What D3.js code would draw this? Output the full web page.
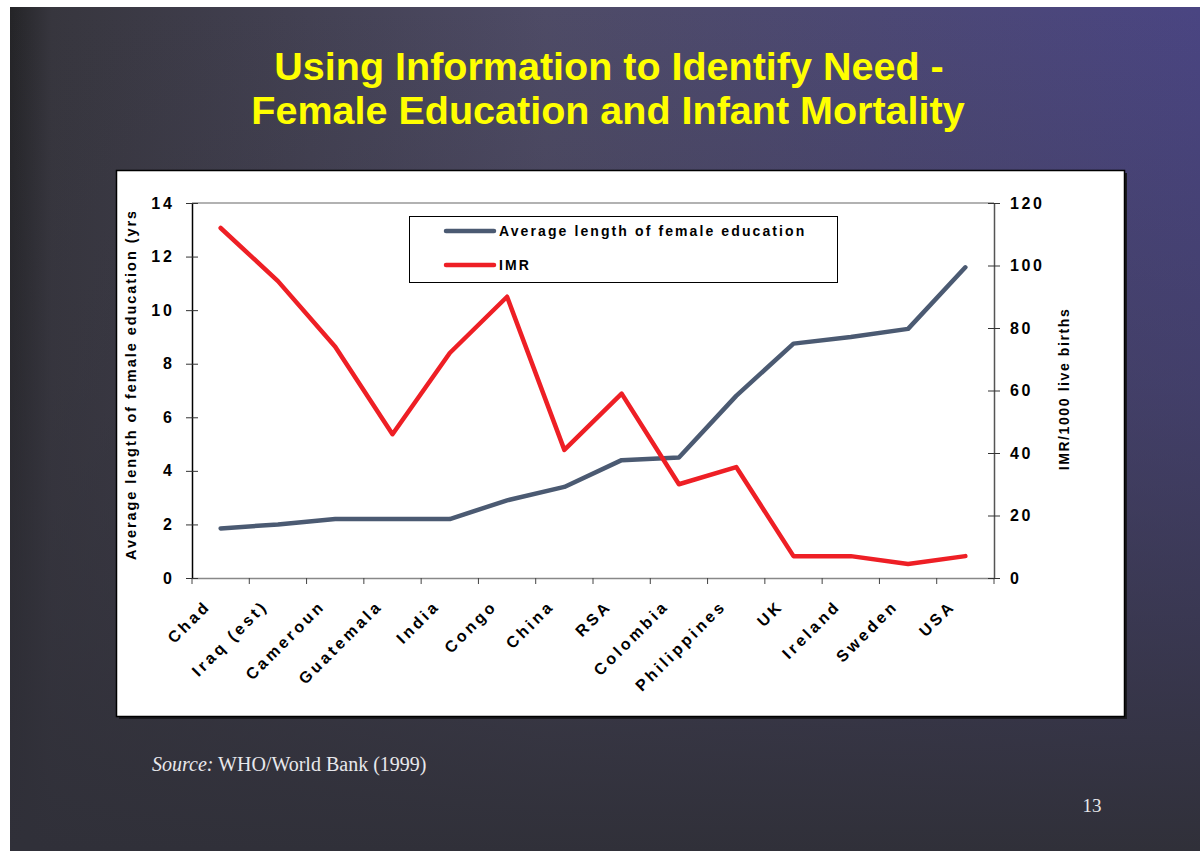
<!DOCTYPE html>
<html>
<head>
<meta charset="utf-8">
<script src="https://cdn.jsdelivr.net/npm/d3@7"></script>
<style>
  html, body { margin: 0; padding: 0; background: #fff; }
  svg { display: block; }
  .tick text { font-family: "Liberation Sans", Arial, sans-serif; font-weight: bold; }
</style>
</head>
<body>
<svg id="slide" width="1200" height="851"></svg>
<script>
// data
var countries = ["Chad", "Iraq (est)", "Cameroun", "Guatemala", "India", "Congo", "China",
                 "RSA", "Colombia", "Philippines", "UK", "Ireland", "Sweden", "USA"];
var education = [1.85, 2.0, 2.2, 2.2, 2.2, 2.9, 3.4, 4.4, 4.5, 6.8, 8.75, 9.0, 9.3, 11.6];
var imr = [112, 95, 74, 46, 72, 90, 41, 59, 30, 35.5, 7, 7, 4.5, 7];
var eduTicks = [0, 2, 4, 6, 8, 10, 12, 14];
var imrTicks = [0, 20, 40, 60, 80, 100, 120];

var svg = d3.select("#slide");
var font = "'Liberation Sans', Arial, sans-serif";

// slide background
var defs = svg.append("defs");
var gh = defs.append("linearGradient").attr("id", "bgH");
gh.append("stop").attr("offset", "0").attr("stop-color", "#242427");
gh.append("stop").attr("offset", "0.035").attr("stop-color", "#37363e");
gh.append("stop").attr("offset", "0.45").attr("stop-color", "#4e4b66");
gh.append("stop").attr("offset", "1").attr("stop-color", "#4a4582");
var gv = defs.append("linearGradient").attr("id", "bgV")
    .attr("x1", 0).attr("y1", 0).attr("x2", 0).attr("y2", 1);
gv.append("stop").attr("offset", "0").attr("stop-color", "#34333d").attr("stop-opacity", 0);
gv.append("stop").attr("offset", "0.45").attr("stop-color", "#34333d").attr("stop-opacity", 0.35);
gv.append("stop").attr("offset", "1").attr("stop-color", "#303039").attr("stop-opacity", 1);

svg.append("rect").attr("x", 10).attr("y", 7).attr("width", 1190).attr("height", 844)
    .attr("fill", "url(#bgH)");
svg.append("rect").attr("x", 10).attr("y", 7).attr("width", 1190).attr("height", 844)
    .attr("fill", "url(#bgV)");

// title
var title = svg.append("g")
    .attr("font-family", font)
    .attr("font-weight", "bold")
    .attr("font-size", 39.5)
    .attr("fill", "#ffff00")
    .attr("text-anchor", "middle");
title.append("text").attr("x", 609).attr("y", 80).text("Using Information to Identify Need -");
title.append("text").attr("x", 608).attr("y", 124).text("Female Education and Infant Mortality");

// chart panel
svg.append("rect").attr("x", 119).attr("y", 173).attr("width", 1008).attr("height", 546)
    .attr("fill", "#1a1a1e");
svg.append("rect").attr("x", 116.5).attr("y", 170.5).attr("width", 1008).attr("height", 546)
    .attr("fill", "#fff").attr("stroke", "#000").attr("stroke-width", 1.5);

var plotLeft = 192, plotRight = 994, plotTop = 203, plotBottom = 578;

var x = d3.scaleBand().domain(countries).range([plotLeft, plotRight]);
var yL = d3.scaleLinear().domain([0, 14]).range([plotBottom, plotTop]);
var yR = d3.scaleLinear().domain([0, 120]).range([plotBottom, plotTop]);

// top frame line of the plot area
svg.append("line").attr("x1", plotLeft).attr("x2", plotRight).attr("y1", plotTop).attr("y2", plotTop)
    .attr("stroke", "#999").attr("stroke-width", 1.5);

// x axis
var xAxis = svg.append("g")
    .attr("transform", `translate(0,${plotBottom})`)
    .call(d3.axisBottom(x).tickSize(0).tickFormat(""));
xAxis.select(".domain").attr("stroke", "#888").attr("stroke-width", 1.5);
xAxis.selectAll(".tick").remove();
var bounds = countries.map(c => x(c)).concat([plotRight]);
xAxis.selectAll("line.sep").data(bounds).join("line")
    .attr("class", "sep")
    .attr("x1", d => d).attr("x2", d => d)
    .attr("y1", 0).attr("y2", 6)
    .attr("stroke", "#444").attr("stroke-width", 1);

svg.append("g")
    .attr("font-family", font)
    .attr("font-weight", "bold")
    .attr("font-size", 16)
    .attr("letter-spacing", 3.2)
    .attr("text-anchor", "end")
    .selectAll("text")
    .data(countries).join("text")
    .attr("transform", d => {
        var cx = x(d) + x.bandwidth() / 2 - 9;
        var cy = plotBottom + 29;
        return `translate(${cx},${cy}) rotate(-45)`;
    })
    .text(d => d);

// left axis
var gL = svg.append("g")
    .attr("transform", `translate(${plotLeft},0)`)
    .call(d3.axisLeft(yL).tickValues(eduTicks).tickSize(12).tickSizeOuter(0).tickPadding(5));
gL.select(".domain").attr("stroke", "#000").attr("stroke-width", 1.5);
gL.selectAll(".tick line").attr("stroke", "#333").attr("transform", "translate(6,0)");
gL.selectAll(".tick text").attr("font-size", 16).attr("letter-spacing", 3).attr("fill", "#000");

// right axis
var gR = svg.append("g")
    .attr("transform", `translate(${plotRight},0)`)
    .call(d3.axisRight(yR).tickValues(imrTicks).tickSize(12).tickSizeOuter(0).tickPadding(4));
gR.select(".domain").attr("stroke", "#555").attr("stroke-width", 1.5);
gR.selectAll(".tick line").attr("stroke", "#333").attr("transform", "translate(-6,0)");
gR.selectAll(".tick text").attr("font-size", 16).attr("letter-spacing", 2.6).attr("fill", "#000");

// axis titles (the left one is cut off by the plot top, as on the slide)
defs.append("clipPath").attr("id", "clipL")
    .append("rect").attr("x", 110).attr("y", 212).attr("width", 40).attr("height", 400);
svg.append("g")
    .attr("clip-path", "url(#clipL)")
    .append("text")
    .attr("transform", "translate(136,560) rotate(-90)")
    .attr("font-family", font)
    .attr("font-weight", "bold").attr("font-size", 14.5).attr("letter-spacing", 1.95)
    .text("Average length of female education (yrs)");
svg.append("text")
    .attr("transform", "translate(1069,389) rotate(-90)")
    .attr("text-anchor", "middle")
    .attr("font-family", font)
    .attr("font-weight", "bold").attr("font-size", 14).attr("letter-spacing", 1.6)
    .text("IMR/1000 live births");

// lines
var cx = d => x(d) + x.bandwidth() / 2;
var eduLine = d3.line().x((d, i) => cx(countries[i])).y(d => yL(d));
var imrLine = d3.line().x((d, i) => cx(countries[i])).y(d => yR(d));

svg.append("path").datum(education).attr("d", eduLine)
    .attr("fill", "none").attr("stroke", "#4b5a72").attr("stroke-width", 4.5)
    .attr("stroke-linecap", "round").attr("stroke-linejoin", "round");
svg.append("path").datum(imr).attr("d", imrLine)
    .attr("fill", "none").attr("stroke", "#ee1f25").attr("stroke-width", 4.5)
    .attr("stroke-linecap", "round").attr("stroke-linejoin", "round");

// legend
var legend = svg.append("g");
legend.append("rect").attr("x", 409.5).attr("y", 216.5).attr("width", 428).attr("height", 66)
    .attr("fill", "#fff").attr("stroke", "#000").attr("stroke-width", 1);
var items = [
    {name: "Average length of female education", color: "#4b5a72", y: 231},
    {name: "IMR", color: "#ee1f25", y: 265}
];
items.forEach(it => {
    legend.append("line").attr("x1", 446).attr("x2", 494).attr("y1", it.y).attr("y2", it.y)
        .attr("stroke", it.color).attr("stroke-width", 4.5).attr("stroke-linecap", "round");
    legend.append("text").attr("x", 499).attr("y", it.y + 5)
        .attr("font-family", font)
        .attr("font-weight", "bold").attr("font-size", 14).attr("letter-spacing", 2.1)
        .text(it.name);
});

// source and page number
var src = svg.append("text").attr("x", 152).attr("y", 771)
    .attr("font-family", "'Liberation Serif', 'Times New Roman', serif")
    .attr("font-size", 20).attr("fill", "#e8e8ec");
src.append("tspan").attr("font-style", "italic").text("Source:");
src.append("tspan").text(" WHO/World Bank (1999)");

svg.append("text").attr("x", 1092).attr("y", 812).attr("text-anchor", "middle")
    .attr("font-family", "'Liberation Serif', 'Times New Roman', serif")
    .attr("font-size", 19).attr("fill", "#e8e8ec")
    .text("13");
</script>
</body>
</html>
